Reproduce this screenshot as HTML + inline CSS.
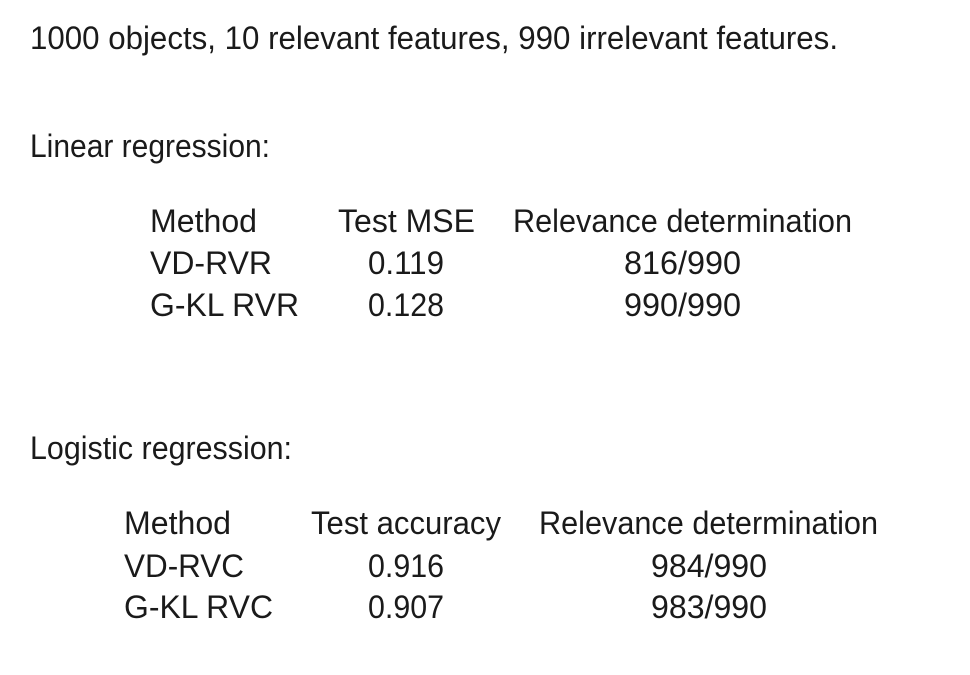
<!DOCTYPE html>
<html>
<head>
<meta charset="utf-8">
<style>
  html,body{margin:0;padding:0;background:#fff;}
  svg{display:block;}
  text{font-family:"Liberation Sans",sans-serif;font-size:32px;fill:#1a1a1a;}
</style>
</head>
<body>
<svg width="970" height="675" viewBox="0 0 970 675">
  <rect width="970" height="675" fill="#fff"/>
  <text x="30" y="49" textLength="808" lengthAdjust="spacingAndGlyphs">1000 objects, 10 relevant features, 990 irrelevant features.</text>

  <text x="30" y="157" textLength="240" lengthAdjust="spacingAndGlyphs">Linear regression:</text>
  <g>
    <text x="150" y="232" textLength="107" lengthAdjust="spacingAndGlyphs">Method</text>
    <text x="338" y="232" textLength="137" lengthAdjust="spacingAndGlyphs">Test MSE</text>
    <text x="513" y="232" textLength="339" lengthAdjust="spacingAndGlyphs">Relevance determination</text>
    <text x="150" y="274" textLength="122" lengthAdjust="spacingAndGlyphs">VD-RVR</text>
    <text x="368" y="274" textLength="76" lengthAdjust="spacingAndGlyphs">0.119</text>
    <text x="624" y="274" textLength="117" lengthAdjust="spacingAndGlyphs">816/990</text>
    <text x="150" y="316" textLength="149" lengthAdjust="spacingAndGlyphs">G-KL RVR</text>
    <text x="368" y="316" textLength="76" lengthAdjust="spacingAndGlyphs">0.128</text>
    <text x="624" y="316" textLength="117" lengthAdjust="spacingAndGlyphs">990/990</text>
  </g>

  <text x="30" y="459" textLength="262" lengthAdjust="spacingAndGlyphs">Logistic regression:</text>
  <g>
    <text x="124" y="534" textLength="107" lengthAdjust="spacingAndGlyphs">Method</text>
    <text x="311" y="534" textLength="190" lengthAdjust="spacingAndGlyphs">Test accuracy</text>
    <text x="539" y="534" textLength="339" lengthAdjust="spacingAndGlyphs">Relevance determination</text>
    <text x="124" y="577" textLength="120" lengthAdjust="spacingAndGlyphs">VD-RVC</text>
    <text x="368" y="577" textLength="76" lengthAdjust="spacingAndGlyphs">0.916</text>
    <text x="651" y="577" textLength="116" lengthAdjust="spacingAndGlyphs">984/990</text>
    <text x="124" y="618" textLength="149" lengthAdjust="spacingAndGlyphs">G-KL RVC</text>
    <text x="368" y="618" textLength="76" lengthAdjust="spacingAndGlyphs">0.907</text>
    <text x="651" y="618" textLength="116" lengthAdjust="spacingAndGlyphs">983/990</text>
  </g>
</svg>
</body>
</html>
